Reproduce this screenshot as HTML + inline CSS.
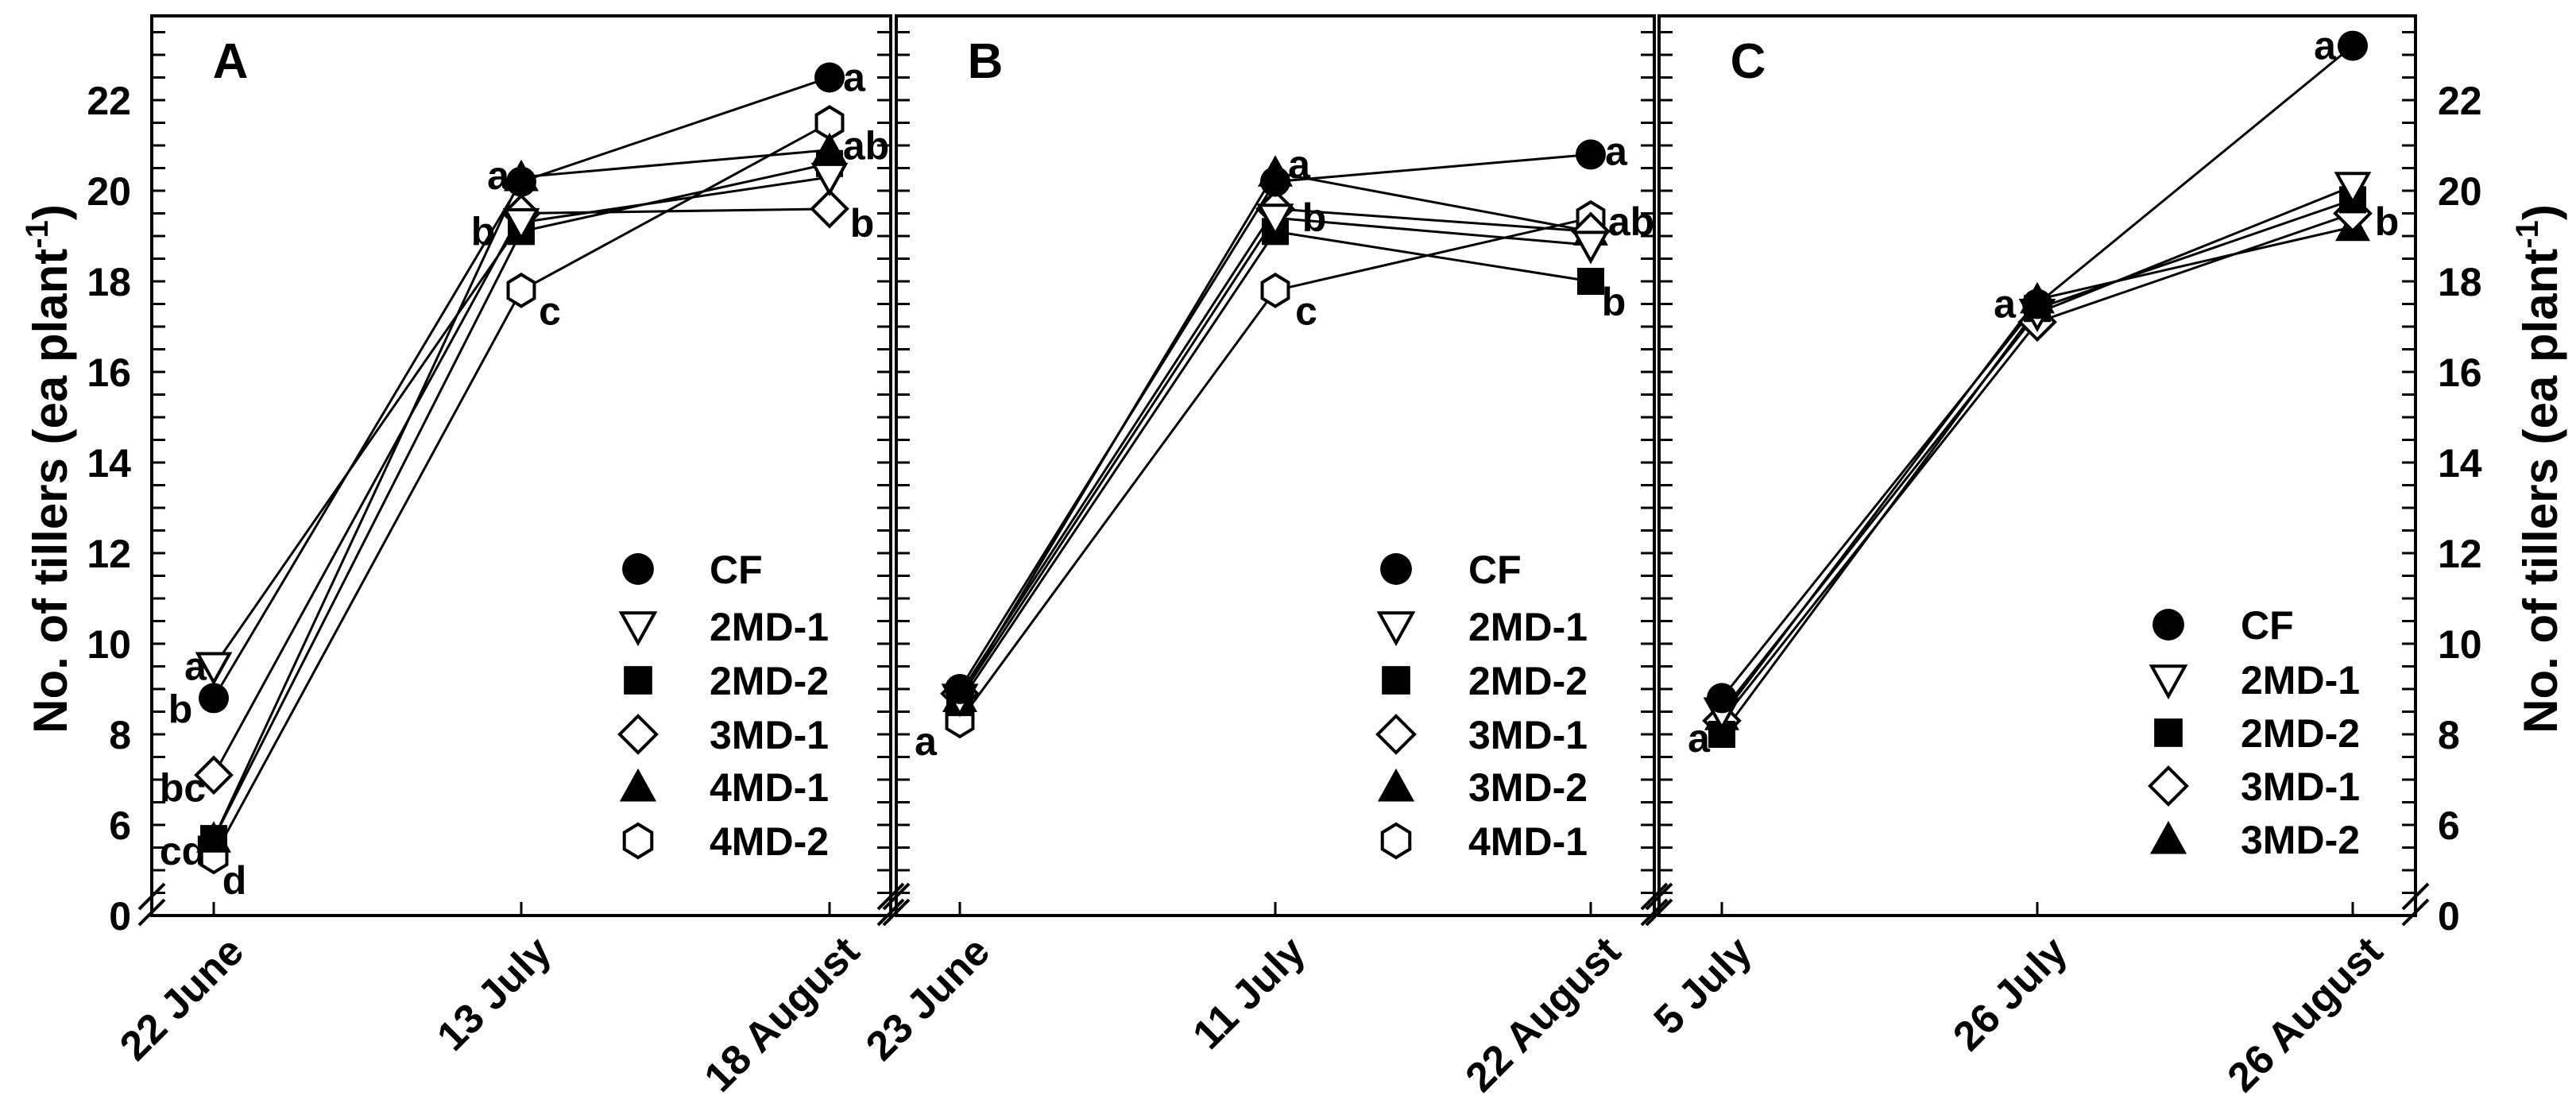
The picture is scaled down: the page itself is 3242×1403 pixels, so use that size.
<!DOCTYPE html>
<html><head><meta charset="utf-8">
<style>
html,body{margin:0;padding:0;background:#fff;}
svg{display:block;font-family:"Liberation Sans",Arial,sans-serif;font-weight:bold;}
</style></head>
<body>
<svg id="chart" width="3242" height="1403" viewBox="0 0 3242 1403" xmlns="http://www.w3.org/2000/svg">
<text transform="translate(84,590) rotate(-90)" text-anchor="middle" font-size="60">No. of tillers (ea plant<tspan dy="-24" font-size="40">-1</tspan><tspan dy="24">)</tspan></text>
<text transform="translate(3218,590) rotate(-90)" text-anchor="middle" font-size="60">No. of tillers (ea plant<tspan dy="-24" font-size="40">-1</tspan><tspan dy="24">)</tspan></text>
</svg>
<script>
// ---- data ----
const datesA = ["22 June","13 July","18 August"];
const datesB = ["23 June","11 July","22 August"];
const datesC = ["5 July","26 July","26 August"];
const namesA = ["CF","2MD-1","2MD-2","3MD-1","4MD-1","4MD-2"];
const namesB = ["CF","2MD-1","2MD-2","3MD-1","3MD-2","4MD-1"];
const namesC = ["CF","2MD-1","2MD-2","3MD-1","3MD-2"];
const A_CF   = [8.8, 20.2, 22.5];
const A_2MD1 = [9.5, 19.3, 20.3];
const A_2MD2 = [5.7, 19.1, 20.6];
const A_3MD1 = [7.1, 19.5, 19.6];
const A_4MD1 = [5.7, 20.3, 20.9];
const A_4MD2 = [5.3, 17.8, 21.5];
const B_CF   = [9.0, 20.2, 20.8];
const B_2MD1 = [8.8, 19.4, 18.8];
const B_2MD2 = [8.7, 19.1, 18.0];
const B_3MD1 = [8.9, 19.6, 19.1];
const B_3MD2 = [8.8, 20.4, 19.1];
const B_4MD1 = [8.3, 17.8, 19.4];
const C_CF   = [8.8, 17.5, 23.2];
const C_2MD1 = [8.5, 17.3, 20.1];
const C_2MD2 = [8.0, 17.4, 19.8];
const C_3MD1 = [8.3, 17.1, 19.5];
const C_3MD2 = [8.4, 17.6, 19.2];
const yTickLabels = ["0","6","8","10","12","14","16","18","20","22"];
const yTickValues = [4,6,8,10,12,14,16,18,20,22];
// significance letters: [dateIndex, value, text, dx, dy]
const lettersA = [[0,9.5,"a",-23,0],[0,8.8,"b",-42,14],[0,7.1,"bc",-39,16],[0,5.7,"cd",-39,16],[0,5.3,"d",26,30],
  [1,20.3,"a",-29,-2],[1,19.1,"b",-48,0],[1,17.8,"c",36,26],[2,22.5,"a",31,0],[2,20.9,"ab",46,-5],[2,19.6,"b",41,18]];
const lettersB = [[0,8.3,"a",-43,26],[1,20.4,"a",30,-10],[1,19.4,"b",49,0],[1,17.8,"c",39,26],[2,20.8,"a",32,-4],[2,19.4,"ab",51,5],[2,18.0,"b",29,26]];
const lettersC = [[0,8.3,"a",-29,22],[1,17.5,"a",-41,0],[2,23.2,"a",-35,0],[2,19.6,"b",43,16]];

// ---- layout ----
const NS="http://www.w3.org/2000/svg";
const svg=document.getElementById('chart');
const Y0=1152, PPU=57.0, YTOP=20;
function yS(v){return Y0-(v-4)*PPU;}
const panels=[
 {id:"a",label:"A",left:191,right:1121,xs:[269,656,1044],dates:datesA,names:namesA,
  series:[A_CF,A_2MD1,A_2MD2,A_3MD1,A_4MD1,A_4MD2],syms:["circle","tridown","square","diamond","triup","hex"],
  letters:lettersA,legX:803,legTX:893,legY:[716,788,856,924,990,1058],labelX:290},
 {id:"b",label:"B",left:1128,right:2082,xs:[1208,1605,2002],dates:datesB,names:namesB,
  series:[B_CF,B_2MD1,B_2MD2,B_3MD1,B_3MD2,B_4MD1],syms:["circle","tridown","square","diamond","triup","hex"],
  letters:lettersB,legX:1757,legTX:1848,legY:[716,788,856,924,990,1058],labelX:1240},
 {id:"c",label:"C",left:2088,right:3040,xs:[2167,2564,2961],dates:datesC,names:namesC,
  series:[C_CF,C_2MD1,C_2MD2,C_3MD1,C_3MD2],syms:["circle","tridown","square","diamond","triup"],
  letters:lettersC,legX:2729,legTX:2820,legY:[786,855,922,989,1056],labelX:2200}
];
function mk(tag,attrs,parent){const e=document.createElementNS(NS,tag);for(const k in attrs)e.setAttribute(k,attrs[k]);(parent||svg).appendChild(e);return e;}
function marker(sym,x,y,g,s){
  s=s||1;let e;
  const sw=4;
  if(sym==="circle"){e=mk('ellipse',{cx:x,cy:y,rx:19*s,ry:19*s,fill:'#000'},g);}
  else if(sym==="square"){e=mk('rect',{x:x-17*s,y:y-17*s,width:34*s,height:34*s,fill:'#000'},g);}
  else if(sym==="triup"){const r=22*s;e=mk('polygon',{points:`${x},${y-r} ${x+r},${y+r*0.8} ${x-r},${y+r*0.8}`,fill:'#000'},g);}
  else if(sym==="tridown"){const r=20*s;e=mk('polygon',{points:`${x-r},${y-r*0.8} ${x+r},${y-r*0.8} ${x},${y+r}`,fill:'#fff',stroke:'#000','stroke-width':sw},g);}
  else if(sym==="diamond"){const r=22*s;e=mk('polygon',{points:`${x},${y-r} ${x+r},${y} ${x},${y+r} ${x-r},${y}`,fill:'#fff',stroke:'#000','stroke-width':sw},g);}
  else {const r=20*s;let p=[];for(let i=0;i<6;i++){const a=Math.PI/180*(60*i+30);p.push((x+r*Math.cos(a)*0.95)+","+(y+r*Math.sin(a)));}
    e=mk('polygon',{points:p.join(" "),fill:'#fff',stroke:'#000','stroke-width':sw},g);}
  return e;
}
function breakMarks(x,g){
  for(const off of [0,20]){
    const l=mk('line',{x1:x-16,y1:Y0-6-off+18,x2:x+16,y2:Y0-38-off+18,stroke:'#000','stroke-width':4},g);
    
    
  }
}
panels.forEach((p,pi)=>{
  const g=mk('g',{});
  
  
  const fr=mk('rect',{x:p.left,y:YTOP,width:p.right-p.left,height:Y0-YTOP,fill:'none',stroke:'#000','stroke-width':4},g);
  
  
  for(let v=4.5; v<=23.6; v+=0.5){
    const y=yS(v);
    const t1=mk('line',{x1:p.left,y1:y,x2:p.left+17,y2:y,stroke:'#000','stroke-width':3},g);
    
    
    const t2=mk('line',{x1:p.right,y1:y,x2:p.right-17,y2:y,stroke:'#000','stroke-width':3},g);
    
    
  }
  breakMarks(p.left,g);breakMarks(p.right,g);
  p.xs.forEach((x,i)=>{
    const t=mk('line',{x1:x,y1:Y0,x2:x,y2:Y0-17,stroke:'#000','stroke-width':3},g);
    
    
    const tx=mk('text',{x:0,y:0,'font-size':52,'text-anchor':'end',transform:`translate(${x+14},${Y0+22}) rotate(-45)`,dy:'0.72em'},g);
    tx.textContent=p.dates[i];
    
    
  });
  if(pi===0||pi===2){
    yTickValues.forEach((v,i)=>{
      const left=pi===0;
      const tx=mk('text',{x:left?p.left-26:p.right+28,y:yS(v)+18,'font-size':50,'text-anchor':left?'end':'start'},g);
      tx.textContent=yTickLabels[i];
      
      
    });
  }
  const pl=mk('text',{x:p.labelX,y:98,'font-size':62,'text-anchor':'middle'},g);
  pl.textContent=p.label;
  
  
  p.series.forEach((s,si)=>{
    const pts=s.map((v,i)=>p.xs[i]+","+yS(v)).join(" ");
    const l=mk('polyline',{points:pts,fill:'none',stroke:'#000','stroke-width':3},g);
    
    
  });
  for(let si=p.series.length-1;si>=0;si--){
    p.series[si].forEach((v,i)=>{
      const m=marker(p.syms[si],p.xs[i],yS(v),g);
      
      
    });
  }
  p.letters.forEach(L=>{
    const tx=mk('text',{x:p.xs[L[0]]+L[3],y:yS(L[1])+L[4]+17,'font-size':50,'text-anchor':'middle'},g);
    tx.textContent=L[2];
    
    
  });
  p.names.forEach((n,i)=>{
    const lg=mk('g',{},g);
    
    
    marker(p.syms[i],p.legX,p.legY[i],lg,1.05);
    const tx=mk('text',{x:p.legTX,y:p.legY[i]+18,'font-size':50},lg);
    tx.textContent=n;
  });
});
</script>
</body></html>
